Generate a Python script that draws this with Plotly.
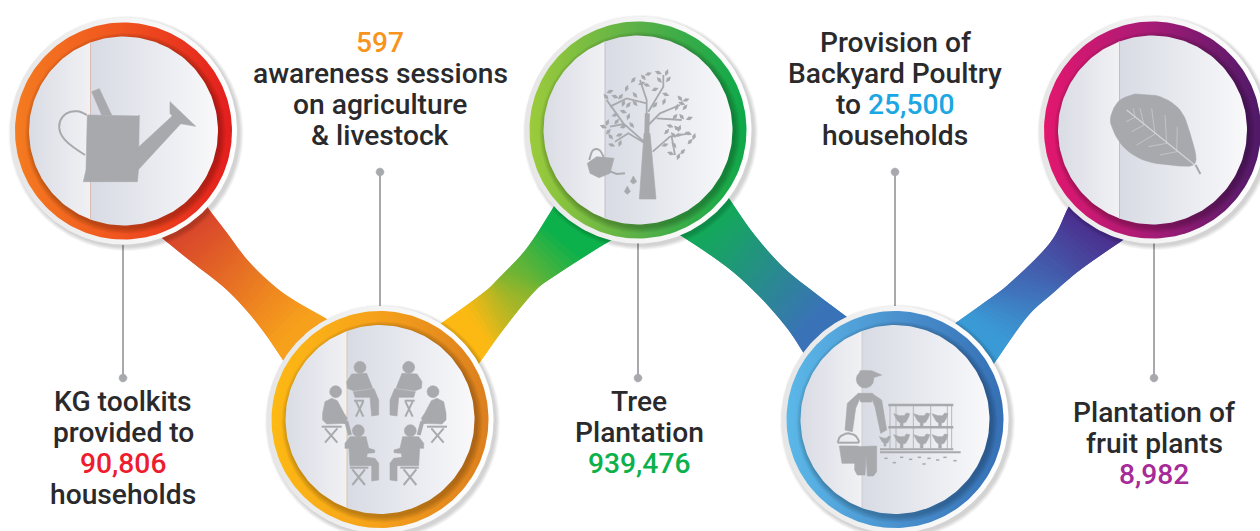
import numpy as np
import plotly.graph_objects as go

# ---------- content ----------
VALUES = [90806, 597, 939476, 25500, 8982]
VALUE_COLORS = ["#ED1C2E", "#F7941D", "#0DB14B", "#1CA6E3", "#A62A97"]
TEXT_1 = ["KG toolkits", "provided to", "{v}", "households"]
TEXT_2 = ["{v}", "awareness sessions", "on agriculture", "& livestock"]
TEXT_3 = ["Tree", "Plantation", "{v}"]
TEXT_4 = ["Provision of", "Backyard Poultry", "to {v}", "households"]
TEXT_5 = ["Plantation of", "fruit plants", "{v}"]
TEXTS = [TEXT_1, TEXT_2, TEXT_3, TEXT_4, TEXT_5]

# ---------- styling / layout ----------
GREY = "#A7A9AC"
INK = "#2A2A2C"
CENTERS = [(123.5, 131), (380, 419.5), (638, 130), (895, 419.5), (1152.5, 130)]
TEXT_X = [123, 380, 639, 895, 1154]
TEXT_Y = [(401.5, 31), (42.5, 31), (401.5, 31), (42.5, 31), (412.5, 31)]
RINGS = [
    ["#F47B20", "#F0531F", "#E31E1E"],
    ["#FDB913", "#F5A01B", "#DC7F1F"],
    ["#9CCB3B", "#5AB047", "#0DA84A"],
    ["#5BB8E8", "#4B92CF", "#3670B5"],
    ["#E3176E", "#A51B76", "#4E1A68"],
]
CREASE = ["#D9BDB5", "#D8C6A8", "#BFC2C8", "#C9CDD6", "#D6B4C0"]
RIBBON_COLORS = [
    ("#D9472B", "#F7A01C"),
    ("#FDB913", "#0DB14B"),
    ("#0DB14B", "#3A72B8"),
    ("#3A9AD5", "#4B2E8E"),
]
RIBBON_EDGES = [
    ([(200, 195), (208, 208), (227, 233), (250, 263), (283, 293), (325, 318), (340, 327)],
     [(150, 228), (162, 238), (193, 263), (227, 290), (257, 323), (283, 360), (292, 375)]),
    ([(430, 330), (443, 322), (483, 293), (500, 277), (527, 248), (553, 208), (560, 195)],
     [(470, 375), (480, 362), (503, 330), (533, 293), (553, 277), (608, 242), (625, 235)]),
    ([(722, 190), (730, 200), (753, 233), (783, 267), (815, 293), (847, 317), (860, 326)],
     [(670, 230), (683, 237), (727, 267), (760, 297), (787, 328), (803, 352), (810, 362)]),
    ([(945, 330), (957, 322), (985, 302), (1010, 283), (1050, 243), (1068, 208), (1076, 197)],
     [(985, 375), (995, 362), (1027, 317), (1053, 293), (1080, 270), (1123, 240), (1135, 232)]),
]
RIBBON_STOPS = [(0.30, 0.66), (0.33, 0.64), (0.24, 0.66), (0.32, 0.70)]
LEADERS = [(123, 245, 378), (380, 172, 306), (638, 243, 378), (895, 172, 306), (1154, 243, 378)]

fig = go.Figure()


def fill(x, y, color=None, grad=None, smooth=False, edge=True):
    kw = dict(x=list(x), y=list(y), mode="lines", fill="toself", hoverinfo="skip", showlegend=False)
    if grad:
        kw["fillgradient"] = dict(type="horizontal", colorscale=grad)
        kw["line"] = dict(width=0)
    else:
        kw["fillcolor"] = color
        kw["line"] = dict(width=0.6 if (edge and not color.startswith("rgba")) else 0,
                          color=color, shape="spline" if smooth else "linear")
    fig.add_trace(go.Scatter(**kw))


def stroke(pts, color=GREY, width=2, smooth=False):
    fig.add_trace(go.Scatter(x=[p[0] for p in pts], y=[p[1] for p in pts], mode="lines",
                             line=dict(color=color, width=width, shape="spline" if smooth else "linear"),
                             hoverinfo="skip", showlegend=False))


def disc(cx, cy, r, color=None, grad=None):
    a = np.linspace(0, 2 * np.pi, 181)
    fill(cx + r * np.cos(a), cy + r * np.sin(a), color, grad)


def z(pts, ox, oy):
    return [(ox + p[0] / 3, oy + p[1] / 3) for p in pts]


def poly(pts, ox, oy, color=GREY, smooth=False):
    q = z(pts, ox, oy)
    q.append(q[0])
    fill([p[0] for p in q], [p[1] for p in q], color, smooth=smooth)


def line(pts, ox, oy, width=2, color=GREY, smooth=False):
    stroke(z(pts, ox, oy), color, width, smooth)


def zdisc(x, y, r, ox, oy, color=GREY):
    disc(ox + x / 3, oy + y / 3, r / 3, color)


def catmull(pts, n=12):
    p = np.array([pts[0]] + list(pts) + [pts[-1]], float)
    out = []
    for i in range(1, len(p) - 2):
        for t in np.linspace(0, 1, n, endpoint=False):
            out.append(0.5 * (2 * p[i] + (p[i + 1] - p[i - 1]) * t
                              + (2 * p[i - 1] - 5 * p[i] + 4 * p[i + 1] - p[i + 2]) * t ** 2
                              + (3 * p[i] - p[i - 1] - 3 * p[i + 1] + p[i + 2]) * t ** 3))
    out.append(p[-2])
    return np.array(out)


def mix(c1, c2, t):
    a = [int(c1[i:i + 2], 16) for i in (1, 3, 5)]
    b = [int(c2[i:i + 2], 16) for i in (1, 3, 5)]
    return "#%02X%02X%02X" % tuple(round(u + (v - u) * t) for u, v in zip(a, b))


# ---------- ribbons ----------
for i, (edges, cols, stops) in enumerate(zip(RIBBON_EDGES, RIBBON_COLORS, RIBBON_STOPS)):
    A, B = catmull(edges[0], 10), catmull(edges[1], 10)
    p0, p1 = np.array(CENTERS[i]), np.array(CENTERS[i + 1])
    d = p1 - p0
    # paint from the far end backwards so each slice overlaps the next one: no seams, clean edges
    for k in range(len(A) - 2, -1, -1):
        mid = (A[k] + A[k + 1] + B[k] + B[k + 1]) / 4
        t = np.dot(mid - p0, d) / np.dot(d, d)
        s = np.clip((t - stops[0]) / (stops[1] - stops[0]), 0, 1)
        col = mix(cols[0], cols[1], s)
        e = min(k + 2, len(A) - 1)
        fill([A[k][0], A[k + 1][0], A[e][0], B[e][0], B[k + 1][0], B[k][0], A[k][0]],
             [A[k][1], A[k + 1][1], A[e][1], B[e][1], B[k + 1][1], B[k][1], A[k][1]], col, edge=False)

# ---------- leader lines ----------
for (x, y0, y1) in LEADERS:
    stroke([(x, y0), (x, y1)], GREY, 2)
for i, (x, y0, y1) in enumerate(LEADERS):
    disc(x, y1 if i % 2 == 0 else y0, 4, GREY)

# ---------- medallions ----------
for (cx, cy), ring, crease in zip(CENTERS, RINGS, CREASE):
    for k in range(5, 0, -1):
        disc(cx + 2.5, cy + 2.5, 113 + k * 0.9, "rgba(0,0,0,0.035)")
    disc(cx, cy, 113.5, grad=[[0, "#E6E6E6"], [0.5, "#F4F4F4"], [1, "#FFFFFF"]])
    disc(cx, cy, 108.5, grad=[[0, ring[0]], [0.5, ring[1]], [1, ring[2]]])
    for k in range(6, 0, -1):
        disc(cx + 2, cy + 2.5, 94.5 + k * 1.0, "rgba(0,0,0,0.04)")
    disc(cx, cy, 94.5, grad=[[0, "#DADCE5"], [0.325, "#F1F1F4"], [0.326, "#D8DBE4"], [1, "#F9F9FB"]])
    h = np.sqrt(94.5 ** 2 - 33 ** 2)
    stroke([(cx - 33, cy - h), (cx - 33, cy + h)], crease, 1)

# ---------- icon: watering can ----------
O = (0, 0)
poly([(262, 345), (415, 348), (418, 345), (415, 515), (412, 545), (250, 545), (258, 510)], *O)
poly([(412, 445), (520, 345), (545, 368), (412, 512)], *O)
poly([(510, 305), (587, 379), (535, 370), (510, 340)], *O)
poly([(275, 275), (298, 266), (335, 345), (305, 345)], *O)
line([(260, 345), (232, 334), (200, 340), (180, 365), (180, 395), (200, 425), (255, 465)], *O, width=2, smooth=True)

# ---------- icon: people in a circle ----------
O = (150, 200)
M = 703


def person(flip):
    f = (lambda pts: [(2 * M - x, y) for x, y in pts]) if flip else (lambda pts: pts)
    fx = (lambda x: 2 * M - x) if flip else (lambda x: x)
    # top
    zdisc(fx(630), 502, 18, *O)
    poly(f([(590, 545), (605, 522), (650, 520), (668, 565), (610, 572), (592, 565)]), *O)
    poly(f([(610, 575), (672, 566), (686, 600), (686, 645), (665, 648), (660, 592), (615, 592)]), *O)
    line(f([(612, 602), (642, 602)]), *O, width=2)
    line(f([(618, 604), (640, 650)]), *O, width=2)
    line(f([(640, 604), (618, 650)]), *O, width=2)
    # side
    zdisc(fx(557), 575, 18, *O)
    poly(f([(518, 640), (525, 605), (545, 595), (562, 602), (582, 640), (592, 655), (585, 670), (530, 672), (518, 660)]), *O)
    line(f([(565, 658), (590, 668), (600, 705)]), *O, width=4)
    line(f([(515, 680), (575, 680)]), *O, width=2)
    line(f([(525, 685), (562, 728)]), *O, width=2)
    line(f([(562, 685), (525, 728)]), *O, width=2)
    # bottom
    zdisc(fx(625), 692, 18, *O)
    poly(f([(585, 730), (600, 710), (648, 710), (656, 745), (674, 750), (674, 758), (652, 760), (650, 772),
            (675, 775), (686, 790), (686, 840), (665, 843), (665, 797), (600, 797), (597, 745), (585, 745)]), *O)
    line(f([(600, 803), (655, 803)]), *O, width=2)
    line(f([(607, 808), (645, 855)]), *O, width=2)
    line(f([(645, 808), (607, 855)]), *O, width=2)


person(False)
person(True)

# ---------- icon: tree ----------
O = (500, 0)
poly([(418, 597), (432, 400), (450, 400), (468, 597)], *O)
BRANCHES = [
    [(440, 420), (440, 300), (420, 240)], [(445, 335), (490, 260), (490, 225)],
    [(445, 375), (480, 340), (540, 315)], [(432, 425), (370, 370), (320, 300)],
    [(435, 430), (385, 400), (345, 425)], [(458, 455), (510, 410), (570, 400)],
    [(470, 355), (545, 360)], [(372, 372), (330, 380)], [(515, 410), (525, 465)],
    [(440, 310), (380, 295), (330, 320)],
]
for b in BRANCHES:
    line(b, *O, width=1.8)
line([(440, 420), (442, 340)], *O, width=5)
LEAVES = [(400, 240), (430, 232), (445, 222), (475, 218), (500, 218), (505, 238), (478, 240), (425, 250), (440, 255),
          (380, 265), (362, 290), (405, 285), (465, 268), (497, 283), (492, 305), (465, 315), (540, 295), (558, 300),
          (545, 310), (530, 322), (555, 322), (318, 290), (330, 275), (345, 290), (370, 310), (385, 315), (405, 310),
          (345, 345), (370, 335), (385, 350), (350, 365), (395, 375), (370, 380), (310, 380), (322, 368), (325, 395),
          (332, 410), (358, 405), (335, 435), (360, 430), (525, 350), (545, 350), (568, 355), (510, 378), (538, 385),
          (500, 395), (520, 405), (535, 405), (565, 400), (582, 410), (570, 425), (522, 435), (495, 435), (512, 460),
          (535, 470), (548, 455), (530, 385)]
q = z(LEAVES, *O)
fig.add_trace(go.Scatter(x=[p[0] for p in q], y=[p[1] for p in q], mode="markers", hoverinfo="skip", showlegend=False,
                         marker=dict(symbol="diamond-tall", size=5.5, color=GREY,
                                     angle=[[40, -40, 70, -70, 20][i % 5] for i in range(len(q))], line=dict(width=0))))
poly([(262, 490), (290, 470), (342, 475), (330, 520), (297, 533), (270, 520)], *O)
line([(268, 480), (280, 450), (298, 450), (312, 475)], *O, width=2, smooth=True)
line([(325, 512), (350, 522), (375, 520)], *O, width=2)
poly([(400, 528), (410, 545), (400, 552), (391, 545)], *O)
poly([(382, 558), (391, 575), (382, 583), (373, 575)], *O)

# ---------- icon: farmer and poultry cages ----------
O = (760, 200)
zdisc(315, 538, 26, *O)
poly([(300, 512), (335, 512), (365, 525), (335, 535), (300, 530)], *O)
poly([(295, 580), (262, 610), (255, 690), (277, 695), (287, 625), (300, 595)], *O)
poly([(335, 580), (365, 600), (380, 690), (362, 700), (345, 620), (335, 595)], *O)
poly([(295, 580), (338, 580), (335, 606), (302, 606)], *O)
poly([(285, 740), (350, 738), (350, 815), (340, 828), (322, 828), (318, 765), (315, 825), (292, 825), (284, 810)], *O)
poly([(238, 738), (295, 738), (287, 790), (246, 790)], *O)
a = np.linspace(np.pi, 2 * np.pi, 13)
line([(265 + 32 * np.cos(t), 728 + 28 * np.sin(t)) for t in a], *O, width=2)
line([(233, 728), (297, 728)], *O, width=2)
for y, x0, x1, w in [(615, 385, 580, 2.5), (682, 385, 580, 2.5), (748, 360, 580, 2), (757, 360, 602, 2)]:
    line([(x0, y), (x1, y)], *O, width=w)
for x in (390, 408, 460, 512, 562, 575):
    line([(x, 615), (x, 750)], *O, width=0.8)
CHICKEN = [(-24, -14), (-6, -8), (8, -8), (14, -16), (24, -14), (20, -2), (12, 12), (4, 14), (4, 26), (-4, 26), (-4, 14), (-12, 8)]
for cx_, cy_ in [(425, 655), (485, 655), (540, 655), (425, 718), (485, 718), (540, 718)]:
    poly([(cx_ + a_, cy_ + b_) for a_, b_ in CHICKEN], *O)
poly([(375 + a_ * 0.7, 720 + b_ * 0.7) for a_, b_ in CHICKEN], *O)
for x, y in [(378, 775), (403, 788), (425, 772), (452, 778), (478, 772), (492, 792), (507, 775), (533, 780), (555, 772), (585, 782)]:
    line([(x - 5, y), (x + 5, y)], *O, width=1.5)

# ---------- icon: leaf ----------
O = (1020, 0)
q = catmull([(345, 282), (420, 290), (480, 330), (510, 400), (525, 490), (450, 495), (370, 480), (310, 440), (275, 380),
             (275, 340), (300, 300), (345, 282)], 6)
fill(1020 + q[:, 0] / 3, q[:, 1] / 3, GREY)
VEIN = "#D4D5D8"
line([(320, 330), (527, 497)], *O, width=1.2, color=VEIN)
line([(527, 495), (541, 522)], *O, width=2)
for v in [[(345, 352), (340, 325)], [(372, 375), (360, 325)], [(405, 402), (395, 325)], [(440, 430), (435, 345)],
          [(470, 455), (472, 380)], [(345, 352), (318, 365)], [(372, 375), (335, 395)], [(405, 402), (350, 435)],
          [(440, 430), (385, 440)], [(470, 455), (420, 465)]]:
    line(v, *O, width=0.6, color=VEIN)

# ---------- text ----------
annotations = []
for lines, v, col, x, (y0, dy) in zip(TEXTS, VALUES, VALUE_COLORS, TEXT_X, TEXT_Y):
    val = f'<span style="color:{col}">{v:,}</span>'
    for j, s in enumerate(lines):
        annotations.append(dict(x=x, y=y0 + j * dy, xref="x", yref="y", showarrow=False, xanchor="center",
                                yanchor="middle", text=s.format(v=val),
                                font=dict(family="Roboto", size=28.2, color=INK, weight=500)))

fig.update_layout(
    width=1260, height=531, autosize=False, margin=dict(l=0, r=0, t=0, b=0),
    paper_bgcolor="#FFFFFF", plot_bgcolor="#FFFFFF", showlegend=False,
    xaxis=dict(range=[0, 1260], visible=False, fixedrange=True),
    yaxis=dict(range=[531, 0], visible=False, fixedrange=True),
    annotations=annotations, hovermode=False,
)
fig.write_html("out.html", config={"displayModeBar": False},
               post_script="document.body.style.margin='0';")
